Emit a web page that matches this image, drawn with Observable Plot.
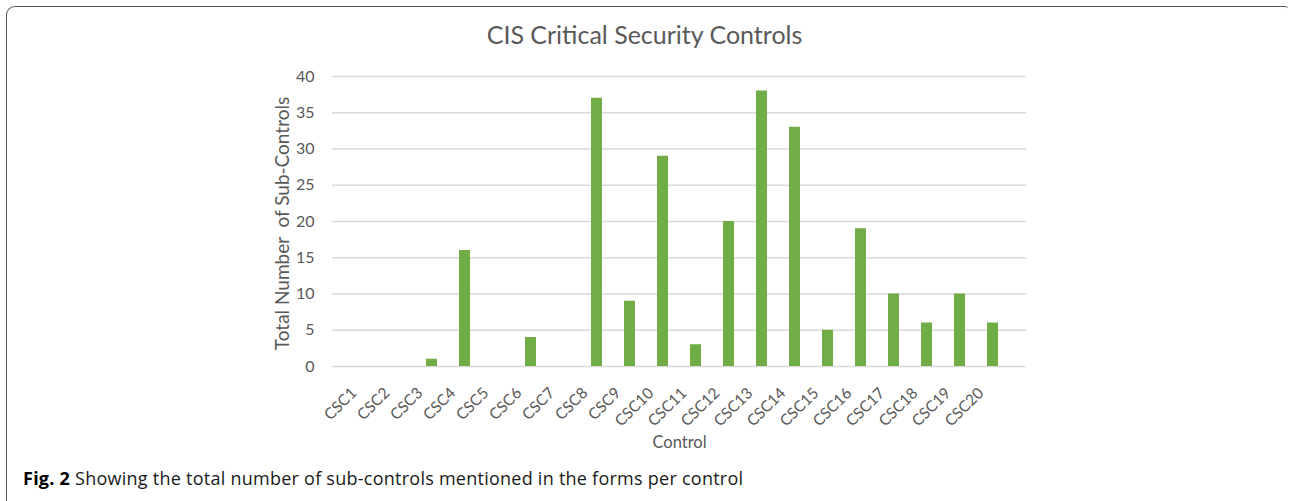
<!DOCTYPE html>
<html>
<head>
<meta charset="utf-8">
<script src="https://cdn.jsdelivr.net/npm/d3@7"></script>
<script src="https://cdn.jsdelivr.net/npm/@observablehq/plot@0.6"></script>
<style>
  html, body { margin: 0; padding: 0; background: #fff; width: 1289px; height: 501px; overflow: hidden; position: relative; }
  #frame { position: absolute; left: 6px; top: 6px; width: 1282px; height: 560px; border-left: 1.5px solid #555; border-top: 1.5px solid #555; border-top-left-radius: 9px; border-top-right-radius: 3px; box-sizing: border-box; }
  #title { position: absolute; left: 0; width: 1289px; top: 18px; text-align: center; font-family: Lato, sans-serif; font-size: 25px; color: #595959; margin: 0; font-weight: normal; line-height: 32px; }
  #chart { position: absolute; left: 0; top: 60px; }
  #caption { position: absolute; left: 23px; top: 466px; font-family: "Open Sans", sans-serif; font-size: 18px; line-height: 24px; color: #1a1a1a; white-space: nowrap; letter-spacing: 0.25px; }
  #caption b { color: #000; }
</style>
</head>
<body>
<div id="frame"></div>
<div id="title">CIS Critical Security Controls</div>
<div id="chart"></div>
<div id="caption"><b>Fig. 2</b> Showing the total number of sub-controls mentioned in the forms per control</div>
<script>
const controls = ["CSC1","CSC2","CSC3","CSC4","CSC5","CSC6","CSC7","CSC8","CSC9","CSC10","CSC11","CSC12","CSC13","CSC14","CSC15","CSC16","CSC17","CSC18","CSC19","CSC20"];
const subControls = [0, 0, 1, 16, 0, 4, 0, 37, 9, 29, 3, 20, 38, 33, 5, 19, 10, 6, 10, 6];
const yTicks = [0, 5, 10, 15, 20, 25, 30, 35, 40];
const yLabel = "Total Number  of Sub-Controls";
const xLabel = "Control";

const data = controls.map((c, i) => ({control: c, value: subControls[i]}));

const chart = Plot.plot({
  width: 1289,
  height: 400,
  marginLeft: 332,
  marginRight: 263,
  marginTop: 16,
  marginBottom: 94,
  style: {fontFamily: "Lato, sans-serif", color: "#595959", background: "transparent"},
  x: {domain: controls, padding: 0.68},
  y: {domain: [0, 40]},
  marks: [
    Plot.gridY(yTicks, {stroke: "#d9d9d9", strokeOpacity: 1, strokeWidth: 1.5}),
    Plot.barY(data, {x: "control", y: "value", fill: "#70ad47"}),
    Plot.axisY(yTicks, {tickSize: 0, tickPadding: 18, fontSize: 16, label: null, fill: "#595959"}),
    Plot.axisX({tickSize: 0, tickPadding: 22, dx: -12, dy: 2, tickRotate: -45, fontSize: 15.5, label: null, fill: "#595959"}),
    Plot.text([yLabel], {frameAnchor: "left", dx: -50, dy: 2, rotate: -90, textAnchor: "middle", fontSize: 19, fill: "#595959", text: d => d}),
    Plot.text([xLabel], {frameAnchor: "bottom", dy: 81, fontSize: 16.5, fill: "#595959", text: d => d})
  ]
});
document.getElementById("chart").appendChild(chart);
</script>
</body>
</html>
